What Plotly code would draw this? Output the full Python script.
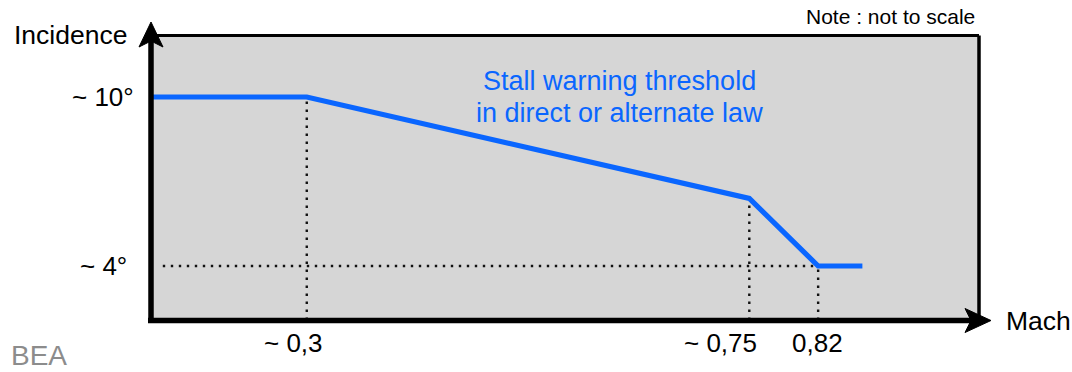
import plotly.graph_objects as go

# Stall warning threshold (schematic, not to scale)
mach = [0.1416, 0.3, 0.75, 0.82, 0.865]
incidence = [10, 10, 6.4, 4, 4]

# Reference (dotted) breakpoints
ref_mach = [0.3, 0.75, 0.82]
ref_incidence = [10, 6.4, 4]
mach_labels = ["~ 0,3", "~ 0,75", "0,82"]
mach_label_shift = [-13, -29, -1]

inc_ticks = [10, 4]
inc_labels = ["~ 10°", "~ 4°"]
inc_label_right = [136, 129]

caption_lines = ["Stall warning threshold", "in direct or alternate law"]

W, H = 1072, 372
L, R, T, B = 151, 979, 36, 320
X_RANGE = [0.1416, 0.98358]
Y_RANGE = [2.083, 12.1657]

FONT = "Liberation Sans, Arial, Helvetica, sans-serif"
BLUE = "#0a66ff"


def px(x):
    return (x - L) / (R - L)


def py(y):
    return (B - y) / (B - T)


fig = go.Figure()

# dotted guides
for m, inc in zip(ref_mach, ref_incidence):
    fig.add_trace(go.Scatter(
        x=[m, m], y=[Y_RANGE[0], inc], mode="lines",
        line=dict(color="#111111", width=2.4, dash="2.4px,5.6px"),
        hoverinfo="skip", showlegend=False))
fig.add_trace(go.Scatter(
    x=[X_RANGE[0] + 0.012, ref_mach[2]], y=[ref_incidence[2], ref_incidence[2]],
    mode="lines", line=dict(color="#111111", width=2.4, dash="2.4px,5.6px"),
    hoverinfo="skip", showlegend=False))

# threshold line
fig.add_trace(go.Scatter(
    x=mach, y=incidence, mode="lines",
    line=dict(color=BLUE, width=5.2),
    hoverinfo="skip", showlegend=False))

shapes = []
# top and right frame
shapes.append(dict(type="line", xref="paper", yref="paper",
                   x0=px(L), y0=py(35.5), x1=px(979), y1=py(35.5),
                   line=dict(color="black", width=3)))
shapes.append(dict(type="line", xref="paper", yref="paper",
                   x0=px(979), y0=py(35.5), x1=px(979), y1=py(320),
                   line=dict(color="black", width=3.5)))
# axes
shapes.append(dict(type="line", xref="paper", yref="paper",
                   x0=px(151), y0=py(323), x1=px(151), y1=py(40),
                   line=dict(color="black", width=5.5)))
shapes.append(dict(type="line", xref="paper", yref="paper",
                   x0=px(148), y0=py(320.5), x1=px(972), y1=py(320.5),
                   line=dict(color="black", width=5.5)))


def arrow_path(pts):
    d = "M " + " L ".join(f"{px(x)},{py(y)}" for x, y in pts) + " Z"
    return d


shapes.append(dict(type="path", xref="paper", yref="paper",
                   path=arrow_path([(151, 22), (163, 47), (151, 41), (139, 47)]),
                   fillcolor="black", line=dict(color="black", width=1)))
shapes.append(dict(type="path", xref="paper", yref="paper",
                   path=arrow_path([(991, 320.5), (965, 332.5), (971, 320.5), (965, 308.5)]),
                   fillcolor="black", line=dict(color="black", width=1)))

annotations = []
for inc, lab, right in zip(inc_ticks, inc_labels, inc_label_right):
    annotations.append(dict(x=px(right), xref="paper", y=inc, yref="y",
                            text=lab, showarrow=False, xanchor="right",
                            yanchor="middle", font=dict(size=26, color="black", family=FONT)))
for m, lab, sh in zip(ref_mach, mach_labels, mach_label_shift):
    annotations.append(dict(x=m, xref="x", y=py(343), yref="paper",
                            text=lab, showarrow=False, xanchor="center",
                            yanchor="middle", xshift=sh,
                            font=dict(size=26, color="black", family=FONT)))

for line_text, y_pix in zip(caption_lines, [81, 113]):
    annotations.append(dict(x=px(619), xref="paper", y=py(y_pix), yref="paper",
                            text=line_text, showarrow=False, xanchor="center",
                            yanchor="middle",
                            font=dict(size=27, color=BLUE, family=FONT)))

annotations += [
    dict(x=px(12), xref="paper", y=py(35), yref="paper", text="Incidence",
         showarrow=False, xanchor="left", yanchor="middle",
         font=dict(size=26.5, color="black", family=FONT)),
    dict(x=px(1004), xref="paper", y=py(321), yref="paper", text="Mach",
         showarrow=False, xanchor="left", yanchor="middle",
         font=dict(size=26.5, color="black", family=FONT)),
    dict(x=px(977), xref="paper", y=py(16), yref="paper", text="Note : not to scale",
         showarrow=False, xanchor="right", yanchor="middle",
         font=dict(size=21, color="black", family=FONT)),
    dict(x=px(10), xref="paper", y=py(372), yref="paper", text="BEA",
         showarrow=False, xanchor="left", yanchor="bottom", borderpad=0,
         font=dict(size=28, color="#8c8c8c", family=FONT)),
]

fig.update_layout(
    width=W, height=H,
    margin=dict(l=L, r=W - R, t=T, b=H - B, pad=0),
    paper_bgcolor="white",
    plot_bgcolor="#d6d6d6",
    xaxis=dict(range=X_RANGE, showgrid=False, zeroline=False, showticklabels=False,
               ticks="", showline=False, fixedrange=True),
    yaxis=dict(range=Y_RANGE, showgrid=False, zeroline=False, showticklabels=False,
               ticks="", showline=False, fixedrange=True),
    shapes=shapes,
    annotations=annotations,
    showlegend=False,
)

fig.write_html("out.html", config=dict(displayModeBar=False))
